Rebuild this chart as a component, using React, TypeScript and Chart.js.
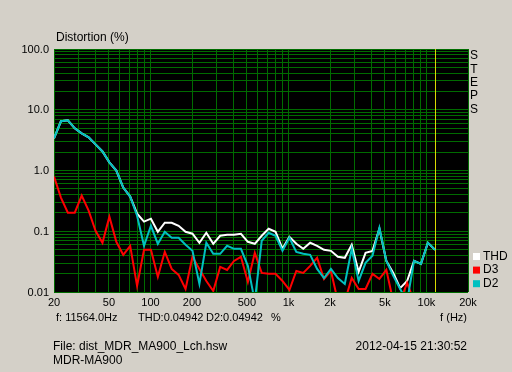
import React, { useEffect, useRef } from "react";
import { Chart, registerables } from "chart.js";
Chart.register(...registerables);

// 1/6-octave measurement frequencies (Hz)
const freqs = [20, 22.45, 25.2, 28.28, 31.75, 35.64, 40, 44.9, 50.4, 56.57, 63.5, 71.3, 80, 89.8, 100.8, 113.1, 127, 142.5, 160, 179.6, 201.6, 226.3, 254, 285.1, 320, 359.2, 403.2, 452.5, 508, 570.2, 640, 718.4, 806.3, 905.1, 1016, 1140, 1280, 1437, 1613, 1810, 2032, 2281, 2560, 2874, 3225, 3620, 4064, 4561, 5120, 5747, 6451, 7241, 8127, 9123, 10240, 11564];

// Distortion (%)
const thd = [3.38, 6.46, 6.7, 4.94, 4.09, 3.51, 2.69, 2.06, 1.36, 1.0, 0.524, 0.372, 0.195, 0.144, 0.161, 0.098, 0.138, 0.138, 0.123, 0.098, 0.091, 0.0646, 0.0945, 0.0621, 0.0843, 0.0876, 0.0876, 0.091, 0.067, 0.0621, 0.0843, 0.11, 0.098, 0.0514, 0.0811, 0.0621, 0.0514, 0.0646, 0.0576, 0.0494, 0.0476, 0.0379, 0.0365, 0.0598, 0.0214, 0.0441, 0.0476, 0.11, 0.0325, 0.0206, 0.0116, 0.0152, 0.0325, 0.029, 0.0646, 0.04942];
const d2 = [3.38, 6.46, 6.7, 4.94, 4.09, 3.51, 2.69, 2.06, 1.36, 1.0, 0.524, 0.372, 0.18, 0.0576, 0.123, 0.0621, 0.098, 0.0781, 0.0781, 0.0598, 0.0476, 0.0136, 0.0646, 0.0425, 0.0425, 0.0576, 0.0514, 0.0514, 0.0269, 0.007, 0.0697, 0.0945, 0.0843, 0.0476, 0.0781, 0.0458, 0.0425, 0.0409, 0.024, 0.017, 0.024, 0.017, 0.0136, 0.0514, 0.0152, 0.0302, 0.0394, 0.114, 0.0325, 0.0184, 0.0112, 0.007, 0.0325, 0.029, 0.0646, 0.04942];
const d3 = [0.796, 0.358, 0.202, 0.202, 0.386, 0.218, 0.102, 0.0646, 0.174, 0.067, 0.0409, 0.0576, 0.0126, 0.0494, 0.0494, 0.0177, 0.0458, 0.024, 0.0191, 0.0112, 0.0379, 0.024, 0.0152, 0.0104, 0.0259, 0.0231, 0.0325, 0.0379, 0.0146, 0.0441, 0.0206, 0.0199, 0.0199, 0.0152, 0.0108, 0.0222, 0.0206, 0.0269, 0.0365, 0.0164, 0.0222, 0.007, 0.007, 0.017, 0.0112, 0.0112, 0.0199, 0.0164, 0.0231, 0.007, 0.007, 0.0141, 0.007, 0.005, 0.005, 0.005];

const xTickValues = [20, 50, 100, 200, 500, 1000, 2000, 5000, 10000, 20000];
const xTickLabels = ["20", "50", "100", "200", "500", "1k", "2k", "5k", "10k", "20k"];
const yTickValues = [100, 10, 1, 0.1, 0.01];
const yTickLabels = ["100.0", "10.0", "1.0", "0.1", "0.01"];
const seriesNames = ["THD", "D3", "D2"];
const seriesColors = ["#ffffff", "#ff0000", "#00c0c0"];
const cursorFreq = 11564;
const cursorText = ["f: 11564.0Hz", "THD:0.04942", "D2:0.04942", "%"];
const fileText = ["File: dist_MDR_MA900_Lch.hsw", "MDR-MA900"];
const dateText = "2012-04-15 21:30:52";

function decadeGrid(lo: number, hi: number): number[] {
  const out: number[] = [];
  for (let p = lo; p < hi; p *= 10) {
    for (let m = 1; m < 10; m++) {
      const v = +(m * p).toPrecision(6);
      if (v >= lo && v <= hi) out.push(v);
    }
  }
  out.push(hi);
  return out;
}
const xGrid = [20, 30, 40, 50, 60, 70, 80, 90, ...decadeGrid(100, 20000)];
const yGrid = decadeGrid(0.01, 100);

const FONT = '"Liberation Sans", Arial, sans-serif';

export default function App() {
  const ref = useRef<HTMLCanvasElement | null>(null);
  useEffect(() => {
    document.body.style.margin = "0";
    document.body.style.background = "#d4d0c8";
    const canvas = ref.current;
    if (!canvas) return;
    const overlay = {
      id: "overlay",
      beforeDraw(chart: any) {
        const { ctx, chartArea: a } = chart;
        ctx.save();
        ctx.fillStyle = "#d4d0c8";
        ctx.fillRect(0, 0, chart.width, chart.height);
        ctx.fillStyle = "#000000";
        ctx.fillRect(a.left, a.top, a.right - a.left, a.bottom - a.top);
        ctx.restore();
      },
      beforeDatasetsDraw(chart: any) {
        const { ctx, chartArea: a } = chart;
        const x = Math.floor(chart.scales.x.getPixelForValue(cursorFreq));
        ctx.save();
        ctx.fillStyle = "#d8d800";
        ctx.fillRect(x, a.top, 1, a.bottom - a.top);
        ctx.restore();
      },
      afterDraw(chart: any) {
        const { ctx, chartArea: a } = chart;
        const xs = chart.scales.x;
        const ys = chart.scales.y;
        ctx.save();
        ctx.fillStyle = "#000000";
        ctx.textBaseline = "middle";
        // y tick labels
        ctx.font = `11px ${FONT}`;
        ctx.textAlign = "right";
        yTickValues.forEach((v, i) => {
          ctx.fillText(yTickLabels[i], a.left - 5, ys.getPixelForValue(v) + 0.5);
        });
        // x tick labels
        ctx.textAlign = "center";
        xTickValues.forEach((v, i) => {
          ctx.fillText(xTickLabels[i], xs.getPixelForValue(v), a.bottom + 11);
        });
        // title
        ctx.textAlign = "left";
        ctx.font = `12px ${FONT}`;
        ctx.fillText("Distortion (%)", 56, 38);
        // STEPS
        ctx.textAlign = "center";
        ctx.font = `12px ${FONT}`;
        "STEPS".split("").forEach((ch, i) => {
          ctx.fillText(ch, 474, 56 + i * 13.3);
        });
        // legend
        ctx.textAlign = "left";
        ctx.font = `12px ${FONT}`;
        seriesNames.forEach((n, i) => {
          const cy = 256 + i * 13.6;
          ctx.fillStyle = seriesColors[i];
          ctx.fillRect(473, cy - 3, 7, 7);
          ctx.fillStyle = "#000000";
          ctx.fillText(n, 483, cy + 0.5);
        });
        // cursor readout
        ctx.font = `11px ${FONT}`;
        ctx.fillText(cursorText[0], 56, 318);
        ctx.fillText(cursorText[1], 138, 318);
        ctx.fillText(cursorText[2], 206, 318);
        ctx.fillText(cursorText[3], 271, 318);
        ctx.textAlign = "right";
        ctx.fillText("f (Hz)", 467, 318);
        // file info
        ctx.textAlign = "left";
        ctx.font = `12px ${FONT}`;
        ctx.fillText(fileText[0], 53, 347);
        ctx.fillText(fileText[1], 53, 361);
        ctx.textAlign = "right";
        ctx.fillText(dateText, 467, 347);
        ctx.restore();
      },
    };
    const mk = (vals: number[]) => freqs.map((f, i) => ({ x: f, y: vals[i] }));
    const chart = new Chart(canvas, {
      type: "line",
      data: {
        datasets: [
          { label: "D2", data: mk(d2), borderColor: seriesColors[2], borderWidth: 2, pointRadius: 0, tension: 0, order: 0 },
          { label: "D3", data: mk(d3), borderColor: seriesColors[1], borderWidth: 2, pointRadius: 0, tension: 0, order: 1 },
          { label: "THD", data: mk(thd), borderColor: seriesColors[0], borderWidth: 2, pointRadius: 0, tension: 0, order: 2 },
        ],
      },
      options: {
        animation: false,
        responsive: false,
        maintainAspectRatio: false,
        devicePixelRatio: 1,
        layout: { padding: { left: 54, top: 49, right: 44, bottom: 80 } },
        plugins: { legend: { display: false }, tooltip: { enabled: false } },
        scales: {
          x: {
            type: "logarithmic",
            min: 20,
            max: 20000,
            afterBuildTicks: (s: any) => {
              s.ticks = xGrid.map((v) => ({ value: v }));
            },
            ticks: { display: false },
            grid: { color: "#006c00", lineWidth: 1, drawTicks: false },
            border: { display: false },
          },
          y: {
            type: "logarithmic",
            min: 0.01,
            max: 100,
            afterBuildTicks: (s: any) => {
              s.ticks = yGrid.map((v) => ({ value: v }));
            },
            ticks: { display: false },
            grid: { color: "#006c00", lineWidth: 1, drawTicks: false },
            border: { display: false },
          },
        },
      },
      plugins: [overlay],
    } as any);
    return () => chart.destroy();
  }, []);
  return (
    <div style={{ width: 512, height: 372, background: "#d4d0c8" }}>
      <canvas ref={ref} width={512} height={372} style={{ display: "block", width: 512, height: 372 }} />
    </div>
  );
}
